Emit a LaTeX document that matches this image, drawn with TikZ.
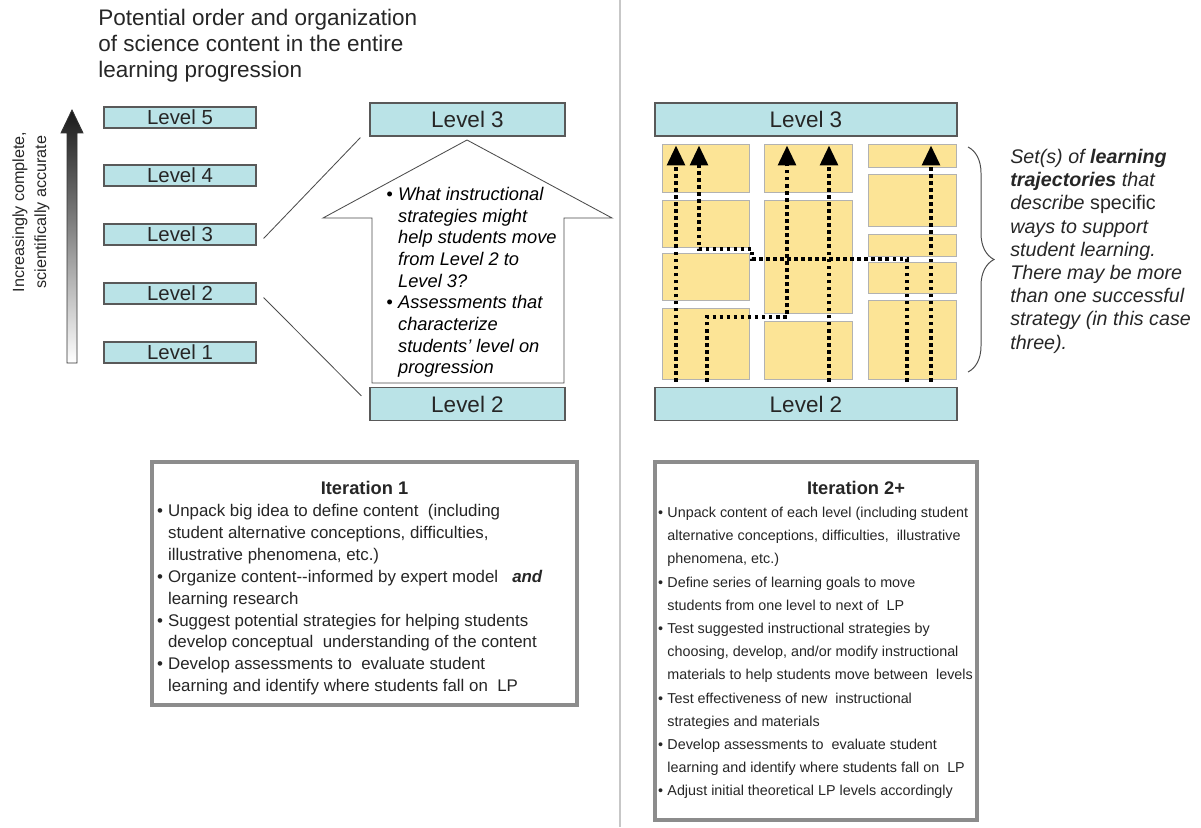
\documentclass[tikz,border=0pt]{standalone}
\usepackage{fontspec}
\setmainfont{Liberation Sans}
\usetikzlibrary{arrows.meta,positioning,calc,decorations.pathreplacing}
\definecolor{levelCyan}{RGB}{186,227,231}
\definecolor{cellYellow}{RGB}{252,228,150}
\colorlet{frameGray}{black!45}
\colorlet{textGray}{black!85}
\newcommand{\bul}{\makebox[0.65em][l]{\textbullet}}
\newcommand{\cnt}{\hspace*{0.65em}}
\tikzset{
  >=Latex,
  lvlbox/.style={
    draw=black!65,
    fill=levelCyan,
    line width=0.8pt,
    inner sep=0pt,
    minimum width=3.8cm,
    minimum height=5.25mm,
    text=textGray,
    font=\fontsize{14.5}{16}\selectfont
  },
  biglvl/.style={
    lvlbox,
    minimum width=4.875cm,
    minimum height=8.25mm,
    font=\fontsize{16}{18}\selectfont
  },
  widelvl/.style={
    biglvl,
    minimum width=7.55cm
  },
  cell/.style={
    draw=black!30,
    fill=cellYellow,
    line width=0.5pt
  },
  traj/.style={
    line width=2.6pt,
    dash pattern=on 2.6pt off 2.4pt,
    -{Triangle[width=12.5pt,length=14pt]},
    shorten <=1.3mm,
    shorten >=2.25mm
  },
  note/.style={
    align=left,
    inner sep=0pt,
    text=textGray
  },
  question/.style={
    note,
    text=black,
    font=\fontsize{13}{15.4}\selectfont\itshape
  },
  iterbox/.style={
    draw=frameGray,
    line width=3pt,
    fill=white,
    inner sep=0pt
  },
  itertitle/.style={
    font=\fontsize{13}{15}\selectfont\bfseries,
    text=textGray,
    inner sep=0pt
  }
}

\begin{document}
\begin{tikzpicture}[x=0.025cm,y=-0.025cm]
\useasboundingbox (0,0) rectangle (1201,827);

% left: whole progression
\node[note, anchor=north west, font=\fontsize{16}{18.5}\selectfont] (title) at (98,9)
{Potential order and organization\\
of science content in the entire\\
learning progression};

\foreach \n/\y in {1/352.5,2/293.5,3/234.5,4/175.5,5/117.5}
  \node[lvlbox] (lv\n) at (180,\y) {Level \n};

\shade[top color=black!90, bottom color=white, draw=black!80, line width=0.6pt]
  (67,363) -- (67,133) -- (61,133) -- (72,110) -- (83,133) -- (77,133) -- (77,363) -- cycle;
\node[note, rotate=90, align=center, font=\fontsize{11.5}{15.6}\selectfont] (axis) at (31,212)
{Increasingly complete,\\
scientifically accurate};

% middle: one step of the progression
\node[biglvl] (m3) at (467.5,119.5) {Level 3};
\node[biglvl] (m2) at (467.5,404) {Level 2};

\draw[black!70, line width=0.6pt] ([shift={(7,4)}]lv3.east) -- ([shift={(-9,1)}]m3.south west);
\draw[black!70, line width=0.6pt] ([shift={(7,4)}]lv2.east) -- ([shift={(-8,9)}]m2.north west);

\draw[black!70, fill=white, line width=0.6pt]
  (372,383) -- (372,218) -- (323,218) -- (467,140) -- (612,218) -- (564,218) -- (564,383) -- cycle;
\node[question, anchor=north west] (quest) at (386,187)
{\bul What instructional\\
\cnt strategies might\\
\cnt help students move\\
\cnt from Level 2 to\\
\cnt Level 3?\\
\bul Assessments that\\
\cnt characterize\\
\cnt students' level on\\
\cnt progression};

\draw[line width=2pt, black!22] (620,0) -- (620,827);

% right: learning trajectories
\node[widelvl] (r3) at (806,119.5) {Level 3};
\node[widelvl] (r2) at (806,404) {Level 2};

\foreach \x/\y/\w/\h in {662/144/87/48, 662/200/87/47, 662/253/87/47, 662/308/87/71,
                         764/144/88/48, 764/200/88/113, 764/321/88/58,
                         868/144/88/23, 868/174/88/52, 868/234/88/22, 868/262/88/31, 868/300/88/79}
  \draw[cell] (\x,\y) rectangle ++(\w,\h);

\coordinate (c1) at (676,0);
\coordinate (c2) at (699,0);
\coordinate (c3) at (787,0);
\coordinate (c4) at (829,0);
\coordinate (c5) at (931,0);
\coordinate (s2) at (707,0);
\coordinate (s3) at (907,0);

\draw[traj] (c1 |- r2.north) -- (c1 |- r3.south);
\draw[traj] (s2 |- r2.north) |- (787,317) -- (c3 |- r3.south);
\draw[traj] (s3 |- r2.north) |- (752,259) |- (699,249) -- (c2 |- r3.south);
\draw[traj] (c4 |- r2.north) -- (c4 |- r3.south);
\draw[traj] (c5 |- r2.north) -- (c5 |- r3.south);

\draw[decorate, decoration={brace, amplitude=6.5mm}, black!70, line width=0.7pt]
  (968,147) -- (968,372);
\node[note, anchor=north west, font=\fontsize{14}{16.5}\selectfont\itshape] (setnote) at (1010,149)
{Set(s) of \textbf{learning}\\
\textbf{trajectories} that\\
describe \textup{specific}\\
ways to support\\
student learning.\\
There may be more\\
than one successful\\
strategy (in this case\\
three).};

% bottom: what happens in each iteration
\node[iterbox, minimum width=10.625cm, minimum height=6.075cm] (it1) at (364.5,583.5) {};
\node[itertitle, below=5.2mm of it1.north] (it1title) {Iteration 1};
\node[note, anchor=north west, font=\fontsize{12}{15.6}\selectfont] (it1list) at ([shift={(7,44)}]it1.north west)
{\bul Unpack big idea to define content\ \ (including\\
\cnt student alternative conceptions, difficulties,\\
\cnt illustrative phenomena, etc.)\\
\bul Organize content-{}-informed by expert model\ \ \ \textbf{\textit{and}}\\
\cnt learning research\\
\bul Suggest potential strategies for helping students\\
\cnt develop conceptual\ \ understanding of the content\\
\bul Develop assessments to\ \ evaluate student\\
\cnt learning and identify where students fall on\ \ LP};

\node[iterbox, minimum width=8.05cm, minimum height=8.95cm] (it2) at (816,641) {};
\node[itertitle, below=5.2mm of it2.north, xshift=1cm] (it2title) {Iteration 2+};
\node[note, anchor=north west, font=\fontsize{10.2}{16.5}\selectfont] (it2list) at ([shift={(5,47)}]it2.north west)
{\bul Unpack content of each level (including student\\
\cnt alternative conceptions, difficulties,\ \ illustrative\\
\cnt phenomena, etc.)\\
\bul Define series of learning goals to move\\
\cnt students from one level to next of\ \ LP\\
\bul Test suggested instructional strategies by\\
\cnt choosing, develop, and/or modify instructional\\
\cnt materials to help students move between\ \ levels\\
\bul Test effectiveness of new\ \ instructional\\
\cnt strategies and materials\\
\bul Develop assessments to\ \ evaluate student\\
\cnt learning and identify where students fall on\ \ LP\\
\bul Adjust initial theoretical LP levels accordingly};

\end{tikzpicture}
\end{document}
